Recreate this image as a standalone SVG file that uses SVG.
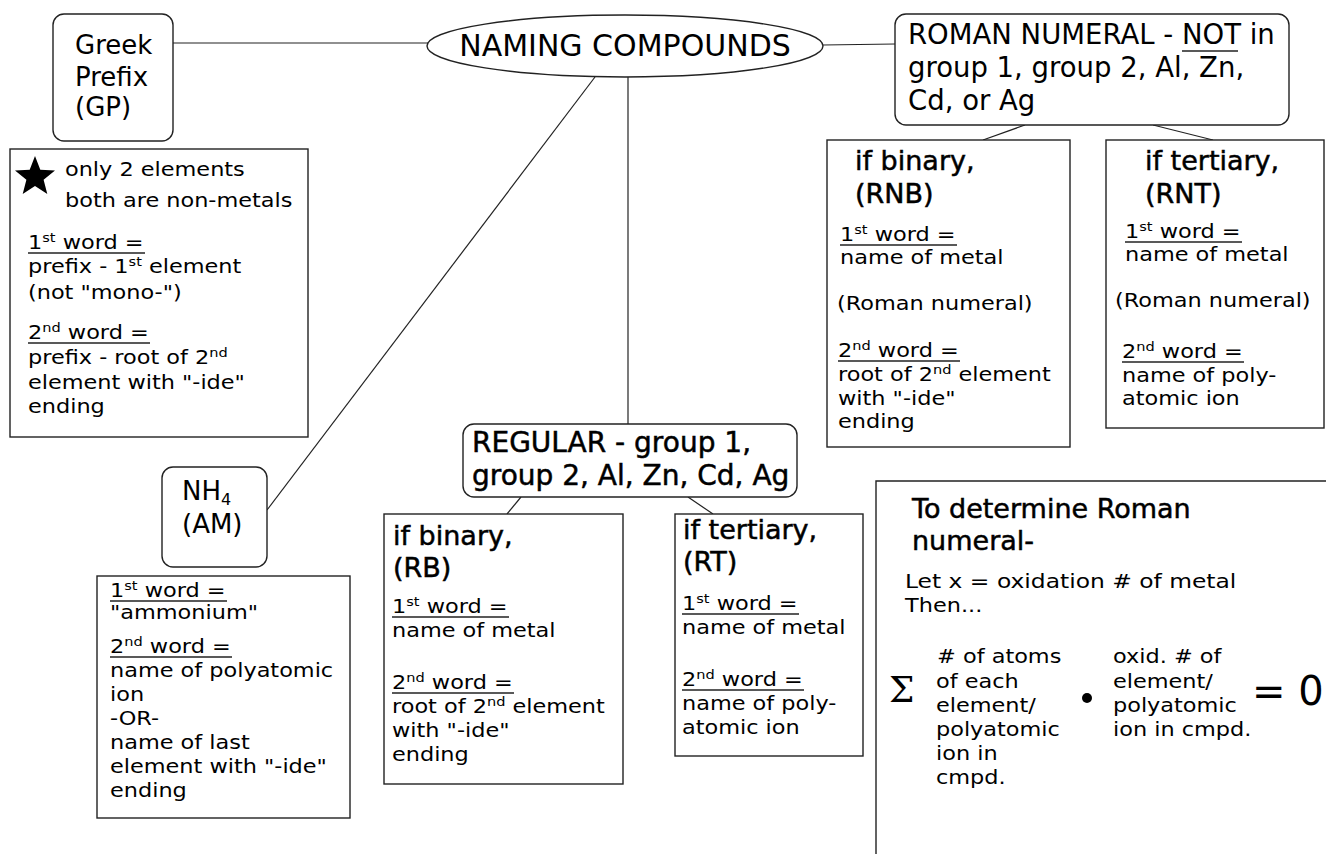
<svg xmlns="http://www.w3.org/2000/svg" width="1326" height="854" viewBox="0 0 1326 854">
<style>
text{font-family:"DejaVu Sans",Verdana,sans-serif;fill:#000}
.t{font-size:27px}
.sb{stroke:#000;stroke-width:0.5}
.b{font-size:20px;transform-box:fill-box;transform-origin:0 0;transform:scaleX(1.12)}
.s{font-size:13px}
.box{fill:#fff;stroke:#222;stroke-width:1.4}
.ul{stroke:#222;stroke-width:1.3}
.con line{stroke:#222;stroke-width:1.2}
</style>
<rect width="1326" height="854" fill="#fff"/>
<g class="con">
<line x1="173" y1="43" x2="428" y2="43"/>
<line x1="823" y1="45" x2="895" y2="44"/>
<line x1="595" y1="77" x2="267" y2="510"/>
<line x1="628" y1="77" x2="628" y2="424"/>
<line x1="1025" y1="125" x2="983" y2="140"/>
<line x1="1153" y1="125" x2="1213" y2="140"/>
<line x1="521" y1="497" x2="507" y2="514"/>
<line x1="688" y1="497" x2="713" y2="514"/>
</g>
<g id="naming">
<ellipse class="box" cx="625" cy="46" rx="198" ry="31"/>
<text x="625" y="56" text-anchor="middle" style="font-size:30px">NAMING COMPOUNDS</text>
</g>
<g id="greek">
<rect class="box" x="53" y="14" width="120" height="127" rx="11"/>
<text class="t" style="font-size:26px" x="75" y="54">Greek</text>
<text class="t" style="font-size:26px" x="75" y="86">Prefix</text>
<text class="t" style="font-size:26px" x="75" y="116">(GP)</text>
</g>
<g id="gp-info">
<rect class="box" x="10" y="149" width="298" height="288"/>
<polygon points="35,156 40.3,169.7 55,170.5 43.6,179.8 47.3,194 35,186 22.7,194 26.4,179.8 15,170.5 29.7,169.7" fill="#000"/>
<text class="b" x="65" y="176">only 2 elements</text>
<text class="b" x="65" y="207">both are non-metals</text>
<text class="b" x="28" y="249">1<tspan class="s" dy="-7">st</tspan><tspan dy="7"> word =</tspan></text>
<line class="ul" x1="28" y1="253" x2="145" y2="253"/>
<text class="b" x="28" y="273">prefix - 1<tspan class="s" dy="-7">st</tspan><tspan dy="7"> element</tspan></text>
<text class="b" x="28" y="299">(not "mono-")</text>
<text class="b" x="28" y="339">2<tspan class="s" dy="-7">nd</tspan><tspan dy="7"> word =</tspan></text>
<line class="ul" x1="28" y1="343" x2="150" y2="343"/>
<text class="b" x="28" y="364">prefix - root of 2<tspan class="s" dy="-7">nd</tspan></text>
<text class="b" x="28" y="389">element with "-ide"</text>
<text class="b" x="28" y="413">ending</text>
</g>
<g id="roman">
<rect class="box" x="895" y="14" width="394" height="111" rx="11"/>
<text class="t" style="font-size:27.5px" x="908" y="44">ROMAN NUMERAL - NOT in</text>
<line class="ul" x1="1182" y1="51" x2="1238" y2="51"/>
<text class="t" style="font-size:27.5px" x="908" y="77">group 1, group 2, Al, Zn,</text>
<text class="t" style="font-size:27.5px" x="908" y="110">Cd, or Ag</text>
</g>
<g id="rnb">
<rect class="box" x="827" y="140" width="243" height="307"/>
<text class="t sb" x="855" y="170">if binary,</text>
<text class="t sb" x="855" y="203">(RNB)</text>
<text class="b" x="840" y="241">1<tspan class="s" dy="-7">st</tspan><tspan dy="7"> word =</tspan></text>
<line class="ul" x1="840" y1="245" x2="957" y2="245"/>
<text class="b" x="840" y="264">name of metal</text>
<text class="b" x="837" y="310">(Roman numeral)</text>
<text class="b" x="838" y="357">2<tspan class="s" dy="-7">nd</tspan><tspan dy="7"> word =</tspan></text>
<line class="ul" x1="838" y1="361" x2="960" y2="361"/>
<text class="b" x="838" y="381">root of 2<tspan class="s" dy="-7">nd</tspan><tspan dy="7"> element</tspan></text>
<text class="b" x="838" y="405">with "-ide"</text>
<text class="b" x="838" y="428">ending</text>
</g>
<g id="rnt">
<rect class="box" x="1106" y="140" width="218" height="288"/>
<text class="t sb" x="1145" y="170">if tertiary,</text>
<text class="t sb" x="1145" y="203">(RNT)</text>
<text class="b" x="1125" y="238">1<tspan class="s" dy="-7">st</tspan><tspan dy="7"> word =</tspan></text>
<line class="ul" x1="1125" y1="242" x2="1242" y2="242"/>
<text class="b" x="1125" y="261">name of metal</text>
<text class="b" x="1115" y="307">(Roman numeral)</text>
<text class="b" x="1122" y="358">2<tspan class="s" dy="-7">nd</tspan><tspan dy="7"> word =</tspan></text>
<line class="ul" x1="1122" y1="362" x2="1244" y2="362"/>
<text class="b" x="1122" y="382">name of poly-</text>
<text class="b" x="1122" y="405">atomic ion</text>
</g>
<g id="regular">
<rect class="box" x="463" y="424" width="334" height="73" rx="11"/>
<text class="t sb" style="font-size:28px" x="472" y="452">REGULAR - group 1,</text>
<text class="t sb" style="font-size:28px" x="472" y="485">group 2, Al, Zn, Cd, Ag</text>
</g>
<g id="rb">
<rect class="box" x="384" y="514" width="239" height="270"/>
<text class="t sb" x="393" y="545">if binary,</text>
<text class="t sb" x="393" y="577">(RB)</text>
<text class="b" x="392" y="613">1<tspan class="s" dy="-7">st</tspan><tspan dy="7"> word =</tspan></text>
<line class="ul" x1="392" y1="617" x2="509" y2="617"/>
<text class="b" x="392" y="637">name of metal</text>
<text class="b" x="392" y="689">2<tspan class="s" dy="-7">nd</tspan><tspan dy="7"> word =</tspan></text>
<line class="ul" x1="392" y1="693" x2="514" y2="693"/>
<text class="b" x="392" y="713">root of 2<tspan class="s" dy="-7">nd</tspan><tspan dy="7"> element</tspan></text>
<text class="b" x="392" y="737">with "-ide"</text>
<text class="b" x="392" y="761">ending</text>
</g>
<g id="rt">
<rect class="box" x="675" y="514" width="188" height="242"/>
<text class="t sb" x="683" y="539">if tertiary,</text>
<text class="t sb" x="683" y="571">(RT)</text>
<text class="b" x="682" y="610">1<tspan class="s" dy="-7">st</tspan><tspan dy="7"> word =</tspan></text>
<line class="ul" x1="682" y1="614" x2="799" y2="614"/>
<text class="b" x="682" y="634">name of metal</text>
<text class="b" x="682" y="686">2<tspan class="s" dy="-7">nd</tspan><tspan dy="7"> word =</tspan></text>
<line class="ul" x1="682" y1="690" x2="804" y2="690"/>
<text class="b" x="682" y="710">name of poly-</text>
<text class="b" x="682" y="734">atomic ion</text>
</g>
<g id="nh4">
<rect class="box" x="162" y="467" width="105" height="100" rx="11"/>
<text class="t" style="font-size:26px" x="182" y="500">NH<tspan style="font-size:16px" dy="5">4</tspan></text>
<text class="t" style="font-size:26px" x="182" y="533">(AM)</text>
</g>
<g id="am-info">
<rect class="box" x="97" y="576" width="253" height="242"/>
<text class="b" x="110" y="597">1<tspan class="s" dy="-7">st</tspan><tspan dy="7"> word =</tspan></text>
<line class="ul" x1="110" y1="601" x2="227" y2="601"/>
<text class="b" x="110" y="619">"ammonium"</text>
<text class="b" x="110" y="653">2<tspan class="s" dy="-7">nd</tspan><tspan dy="7"> word =</tspan></text>
<line class="ul" x1="110" y1="657" x2="232" y2="657"/>
<text class="b" x="110" y="677">name of polyatomic</text>
<text class="b" x="110" y="701">ion</text>
<text class="b" x="110" y="725">-OR-</text>
<text class="b" x="110" y="749">name of last</text>
<text class="b" x="110" y="773">element with "-ide"</text>
<text class="b" x="110" y="797">ending</text>
</g>
<g id="determine">
<path d="M1326,481 H876 V854" fill="none" stroke="#222" stroke-width="1.4"/>
<text class="t sb" x="912" y="518">To determine Roman</text>
<text class="t sb" x="912" y="550">numeral-</text>
<text class="b" x="905" y="588" style="transform:scaleX(1.17)">Let x = oxidation # of metal</text>
<text class="b" x="905" y="612">Then...</text>
<text x="889" y="702" style="font-family:'DejaVu Serif','Liberation Serif',serif;font-size:36px">Σ</text>
<text class="b" x="937" y="663">
<tspan x="937" y="663"># of atoms</tspan>
<tspan x="936" y="688">of each</tspan>
<tspan x="936" y="712">element/</tspan>
<tspan x="936" y="736">polyatomic</tspan>
<tspan x="936" y="760">ion in</tspan>
<tspan x="936" y="784">cmpd.</tspan>
</text>
<circle cx="1087" cy="698" r="5" fill="#000"/>
<text class="b" x="1113" y="663">
<tspan x="1113" y="663">oxid. # of</tspan>
<tspan x="1113" y="688">element/</tspan>
<tspan x="1113" y="712">polyatomic</tspan>
<tspan x="1113" y="736">ion in cmpd.</tspan>
</text>
<text x="1252" y="705" style="font-size:40px">= 0</text>
</g>
</svg>
